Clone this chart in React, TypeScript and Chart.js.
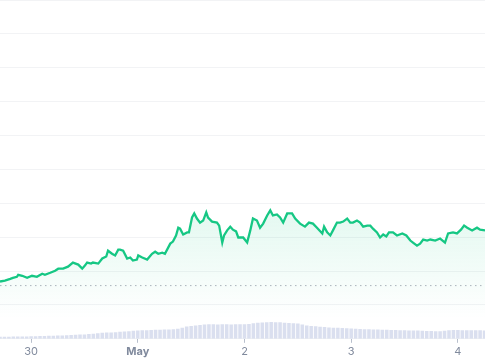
import React, { useEffect, useRef } from "react";
import { Chart, registerables } from "chart.js";

Chart.register(...registerables);

// Price: hours since Apr 29 00:00, and price (arbitrary units)
const priceHours = [
  17.0, 18.1, 19.3, 19.9, 20.8, 21.1, 22.0, 23.1, 24.2, 25.3, 26.5, 27.1, 28.3, 29.4, 30.1, 31.2,
  32.3, 33.4, 34.6, 35.5, 36.1, 36.6, 37.5, 37.9, 39.1, 40.0, 40.9, 41.3, 42.2, 42.9, 43.6, 44.0,
  44.7, 45.6, 46.3, 46.9, 47.8, 48.1, 49.0, 50.1, 51.2, 51.9, 52.6, 53.5, 54.1, 55.3, 55.9, 56.6,
  57.1, 57.5, 58.2, 59.1, 59.5, 60.2, 60.7, 61.3, 62.0, 62.7, 63.4, 63.8, 64.7, 65.8, 66.3, 67.0,
  67.4, 68.1, 68.8, 69.4, 70.1, 70.6, 71.7, 72.6, 73.3, 73.9, 74.8, 75.5, 76.2, 77.1, 77.8, 78.4,
  79.3, 80.0, 80.7, 81.6, 82.7, 83.4, 84.5, 85.6, 86.5, 87.4, 88.3, 89.5, 89.9, 90.6, 91.3, 91.9,
  92.8, 93.5, 94.2, 95.1, 95.8, 96.4, 97.3, 98.0, 98.7, 99.6, 100.3, 100.9, 101.8, 102.5, 103.2,
  103.9, 104.5, 105.4, 106.3, 107.5, 108.4, 109.3, 109.9, 110.8, 111.5, 112.2, 113.1, 113.8,
  114.9, 116.0, 117.1, 117.8, 118.9, 119.8, 120.7, 121.4, 122.1, 123.2, 124.3, 125.0, 126.1,
];
const priceValues = [
  1.69, 1.72, 1.77, 1.8, 1.83, 1.89, 1.86, 1.8, 1.86, 1.83, 1.92, 1.89, 1.95, 2.01, 2.07, 2.07,
  2.13, 2.25, 2.19, 2.07, 2.16, 2.25, 2.22, 2.25, 2.22, 2.37, 2.43, 2.6, 2.51, 2.46, 2.63, 2.63,
  2.6, 2.37, 2.4, 2.31, 2.34, 2.46, 2.4, 2.34, 2.51, 2.57, 2.51, 2.54, 2.51, 2.81, 2.87, 3.05,
  3.28, 3.25, 3.08, 3.14, 3.14, 3.58, 3.7, 3.55, 3.43, 3.49, 3.73, 3.58, 3.46, 3.43, 3.34, 2.84,
  3.05, 3.2, 3.31, 3.22, 3.17, 2.99, 2.99, 2.84, 3.2, 3.55, 3.49, 3.28, 3.4, 3.64, 3.79, 3.64,
  3.67, 3.58, 3.43, 3.7, 3.7, 3.55, 3.4, 3.31, 3.43, 3.4, 3.28, 3.11, 3.31, 3.14, 3.05, 3.2,
  3.43, 3.43, 3.46, 3.55, 3.43, 3.43, 3.49, 3.43, 3.31, 3.34, 3.34, 3.25, 3.14, 2.99, 3.08,
  3.02, 3.14, 3.14, 3.05, 3.11, 3.05, 2.9, 2.84, 2.75, 2.81, 2.93, 2.9, 2.93,
  2.9, 2.96, 2.84, 3.11, 3.14, 3.11, 3.22, 3.34, 3.28, 3.2, 3.28, 3.22, 3.2,
];

// Hourly volume, starting at hour 17 of Apr 29
const volumeStartHour = 17;
const volumeValues = [
  0.2, 0.2, 0.21, 0.22, 0.22, 0.23, 0.24, 0.25, 0.25, 0.27, 0.28, 0.3, 0.3, 0.32, 0.34, 0.36,
  0.38, 0.4, 0.42, 0.44, 0.47, 0.5, 0.55, 0.6, 0.62, 0.64, 0.66, 0.7, 0.72, 0.75, 0.8, 0.84,
  0.85, 0.86, 0.88, 0.9, 0.9, 0.92, 0.94, 0.96, 1.0, 1.1, 1.22, 1.27, 1.32, 1.38, 1.42, 1.44,
  1.44, 1.42, 1.44, 1.45, 1.42, 1.46, 1.45, 1.45, 1.48, 1.55, 1.6, 1.62, 1.66, 1.67, 1.66, 1.64,
  1.6, 1.58, 1.56, 1.52, 1.42, 1.32, 1.27, 1.24, 1.2, 1.18, 1.12, 1.1, 1.1, 1.08, 1.05, 1.04,
  1.0, 0.98, 0.96, 0.95, 0.93, 0.92, 0.9, 0.9, 0.88, 0.87, 0.85, 0.85, 0.84, 0.84, 0.82, 0.8,
  0.78, 0.77, 0.76, 0.76, 0.8, 0.86, 0.87, 0.87, 0.86, 0.86, 0.86, 0.85, 0.85, 0.84,
];

const referencePrice = 1.57;
const tickHours = [24, 48, 72, 96, 120];
const tickLabels = ["30", "May", "2", "3", "4"];

const xMin = 17.0;
const xMax = 126.1;

export default function App() {
  const canvasRef = useRef<HTMLCanvasElement | null>(null);

  useEffect(() => {
    document.body.style.margin = "0";
    const canvas = canvasRef.current;
    if (!canvas) return;

    const priceData = priceHours.map((h, i) => ({ x: h, y: priceValues[i] }));
    const volumeData = volumeValues.map((v, i) => ({ x: volumeStartHour + i, y: v }));
    const refData = [
      { x: xMin, y: referencePrice },
      { x: xMax, y: referencePrice },
    ];

    const chart = new Chart(canvas, {
      type: "line",
      data: {
        datasets: [
          {
            type: "line",
            data: priceData,
            borderColor: "#16c784",
            borderWidth: 2.3,
            pointRadius: 0,
            tension: 0,
            fill: "start",
            backgroundColor: (ctx: any) => {
              const { chart } = ctx;
              const area = chart.chartArea;
              if (!area) return "rgba(22,199,132,0.1)";
              const g = chart.ctx.createLinearGradient(0, area.top + 200, 0, area.bottom - 20);
              g.addColorStop(0, "rgba(22,199,132,0.13)");
              g.addColorStop(1, "rgba(22,199,132,0)");
              return g;
            },
            yAxisID: "y",
            order: 1,
          },
          {
            type: "line",
            data: refData,
            borderColor: "rgba(110,118,135,0.55)",
            borderWidth: 1,
            borderDash: [1.5, 3.5],
            pointRadius: 0,
            fill: false,
            yAxisID: "y",
            order: 2,
          },
          {
            type: "bar",
            data: volumeData,
            backgroundColor: "rgba(205,212,234,0.75)",
            borderWidth: 0,
            barPercentage: 0.8,
            categoryPercentage: 1,
            yAxisID: "y2",
            order: 3,
          } as any,
        ],
      },
      options: {
        animation: false,
        responsive: false,
        maintainAspectRatio: false,
        layout: { padding: 0 },
        plugins: { legend: { display: false }, tooltip: { enabled: false } },
        scales: {
          x: {
            type: "linear",
            min: xMin,
            max: xMax,
            offset: false,
            afterBuildTicks: (scale: any) => {
              scale.ticks = tickHours.map((v) => ({ value: v }));
            },
            ticks: {
              autoSkip: false,
              maxRotation: 0,
              padding: 2,
              color: "#808a9d",
              font: (ctx: any) => ({
                family: "Inter",
                size: 11,
                weight: ctx.tick && ctx.tick.value === 48 ? "bold" : "normal",
              }),
              callback: (value: any) => {
                const i = tickHours.indexOf(Number(value));
                return i >= 0 ? tickLabels[i] : "";
              },
            },
            grid: {
              offset: false,
              drawOnChartArea: false,
              drawTicks: true,
              tickLength: 4,
              color: "#b8bfcc",
            },
            border: { display: false },
          },
          y: {
            type: "linear",
            min: 0,
            max: 10,
            display: true,
            ticks: { display: false, stepSize: 1 },
            grid: { color: "#f2f3f5", drawTicks: false, lineWidth: 1 },
            border: { display: false },
          },
          y2: {
            type: "linear",
            min: 0,
            max: 33.8,
            display: false,
            grid: { display: false },
          },
        },
      },
    });

    return () => chart.destroy();
  }, []);

  return (
    <div style={{ width: 485, height: 360 }}>
      <canvas ref={canvasRef} width={485} height={360} style={{ display: "block" }} />
    </div>
  );
}
